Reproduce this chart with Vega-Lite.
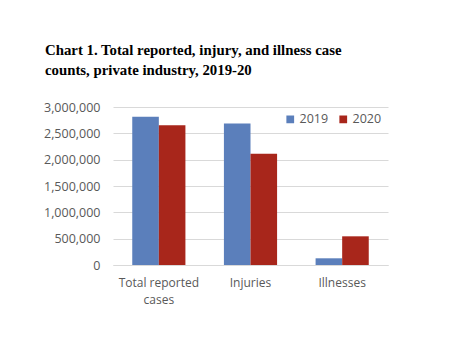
{
  "$schema": "https://vega.github.io/schema/vega-lite/v6.json",
  "width": 275,
  "height": 158,
  "autosize": "none",
  "padding": {"left": 113, "top": 107, "right": 63, "bottom": 92},
  "background": "white",
  "title": {
    "text": ["Chart 1. Total reported, injury, and illness case", "counts, private industry, 2019-20"],
    "anchor": "start",
    "frame": "group",
    "font": "Liberation Serif",
    "fontSize": 14.8,
    "fontWeight": "bold",
    "color": "#000000",
    "dx": -68,
    "offset": 23,
    "lineHeight": 20
  },
  "data": {
    "values": [
      {"category": "Total reported cases", "year": "2019", "value": 2814000},
      {"category": "Total reported cases", "year": "2020", "value": 2654700},
      {"category": "Injuries", "year": "2019", "value": 2686700},
      {"category": "Injuries", "year": "2020", "value": 2111500},
      {"category": "Illnesses", "year": "2019", "value": 127200},
      {"category": "Illnesses", "year": "2020", "value": 544600}
    ]
  },
  "mark": {"type": "bar"},
  "encoding": {
    "x": {
      "field": "category",
      "type": "nominal",
      "sort": ["Total reported cases", "Injuries", "Illnesses"],
      "scale": {"paddingInner": 0.42, "paddingOuter": 0.21},
      "axis": {
        "title": null,
        "labelAngle": 0,
        "labelExpr": "datum.label == 'Total reported cases' ? ['Total reported', 'cases'] : datum.label",
        "labelFont": "Open Sans",
        "labelFontSize": 12,
        "labelColor": "#595959",
        "labelLineHeight": 17,
        "labelPadding": 12,
        "ticks": false,
        "tickSize": 0,
        "domain": true,
        "domainColor": "#d9d9d9"
      }
    },
    "xOffset": {"field": "year", "type": "nominal", "scale": {"paddingInner": 0}},
    "y": {
      "field": "value",
      "type": "quantitative",
      "scale": {"domain": [0, 3000000]},
      "axis": {
        "title": null,
        "values": [0, 500000, 1000000, 1500000, 2000000, 2500000, 3000000],
        "format": ",.0f",
        "labelFont": "Open Sans",
        "labelFontSize": 12.5,
        "labelColor": "#595959",
        "labelPadding": 13,
        "ticks": false,
        "tickSize": 0,
        "domain": false,
        "grid": true,
        "gridColor": "#d9d9d9"
      }
    },
    "color": {
      "field": "year",
      "type": "nominal",
      "scale": {"domain": ["2019", "2020"], "range": ["#5b7fbb", "#a8261b"]},
      "legend": {
        "title": null,
        "orient": "none",
        "legendX": 171,
        "legendY": 6,
        "direction": "horizontal",
        "symbolType": "square",
        "symbolSize": 60,
        "symbolStrokeWidth": 0,
        "labelFont": "Open Sans",
        "labelFontSize": 12.5,
        "labelColor": "#595959",
        "labelOffset": 3,
        "columnPadding": 8,
        "padding": 0
      }
    }
  },
  "config": {"view": {"stroke": null}}
}
